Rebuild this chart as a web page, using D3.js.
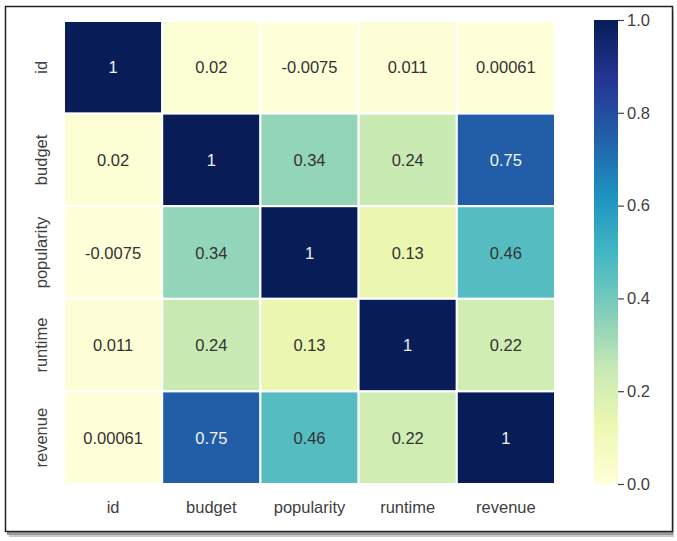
<!DOCTYPE html>
<html><head><meta charset="utf-8">
<script src="https://cdn.jsdelivr.net/npm/d3@7"></script>
<style>body{margin:0;background:#fff}svg{display:block}text{font-family:"Liberation Sans",Arial,sans-serif}</style>
</head><body>
<svg id="c" width="677" height="541"></svg>
<script>
const labels = ["id","budget","popularity","runtime","revenue"];
const matrix = [
  [1, 0.02, -0.0075, 0.011, 0.00061],
  [0.02, 1, 0.34, 0.24, 0.75],
  [-0.0075, 0.34, 1, 0.13, 0.46],
  [0.011, 0.24, 0.13, 1, 0.22],
  [0.00061, 0.75, 0.46, 0.22, 1]
];
const matrixText = [
  ["1","0.02","-0.0075","0.011","0.00061"],
  ["0.02","1","0.34","0.24","0.75"],
  ["-0.0075","0.34","1","0.13","0.46"],
  ["0.011","0.24","0.13","1","0.22"],
  ["0.00061","0.75","0.46","0.22","1"]
];
const cbarTicks = [0.0,0.2,0.4,0.6,0.8,1.0];
const ylgnbu = ["#ffffd9","#edf8b1","#c7e9b4","#7fcdbb","#41b6c4","#1d91c0","#225ea8","#253494","#081d58"];

const svg = d3.select("#c");
// frame with shadow
svg.append("rect").attr("x",9).attr("y",10).attr("width",665).attr("height",527).attr("fill","#c8c8c8");
svg.append("rect").attr("x",7).attr("y",8).attr("width",666).attr("height",527).attr("fill","#9a9a9a");
svg.append("rect").attr("x",5.5).attr("y",6.5).attr("width",667).attr("height",525).attr("fill","#fff").attr("stroke","#222").attr("stroke-width",1.5);

const color = d3.scaleLinear().domain(d3.range(9).map(i=>i/8)).range(ylgnbu).clamp(true);
const x = d3.scaleBand().domain(labels).range([64,555]);
const y = d3.scaleBand().domain(labels).range([21,484]);
const fs = 16.5;

const cells = [];
matrix.forEach((row,i)=>row.forEach((v,j)=>cells.push({r:labels[i],c:labels[j],v,t:matrixText[i][j]})));

svg.append("g").selectAll("rect").data(cells).join("rect")
  .attr("x",d=>x(d.c)).attr("y",d=>y(d.r))
  .attr("width",x.bandwidth()).attr("height",y.bandwidth())
  .attr("fill",d=>color(d.v)).attr("stroke","#fff").attr("stroke-width",2);

function lum(c){const r=d3.rgb(c);const f=v=>{v/=255;return v<=0.03928?v/12.92:Math.pow((v+0.055)/1.055,2.4)};return 0.2126*f(r.r)+0.7152*f(r.g)+0.0722*f(r.b);}
svg.append("g").selectAll("text").data(cells).join("text")
  .attr("x",d=>x(d.c)+x.bandwidth()/2).attr("y",d=>y(d.r)+y.bandwidth()/2)
  .attr("text-anchor","middle").attr("dominant-baseline","central")
  .attr("font-size",fs)
  .attr("fill",d=>lum(color(d.v))>0.408?"#333":"#f2f2f2")
  .text(d=>d.t);

// axes labels
svg.append("g").selectAll("text").data(labels).join("text")
  .attr("x",d=>x(d)+x.bandwidth()/2).attr("y",507)
  .attr("text-anchor","middle").attr("dominant-baseline","central")
  .attr("font-size",fs).attr("fill","#404040").text(d=>d);
svg.append("g").selectAll("text").data(labels).join("text")
  .attr("transform",d=>`translate(41,${y(d)+y.bandwidth()/2}) rotate(-90)`)
  .attr("text-anchor","middle").attr("dominant-baseline","central")
  .attr("font-size",fs).attr("fill","#404040").text(d=>d);

// colorbar
const defs = svg.append("defs");
const grad = defs.append("linearGradient").attr("id","g").attr("x1",0).attr("y1",1).attr("x2",0).attr("y2",0);
ylgnbu.forEach((c,i)=>grad.append("stop").attr("offset",i/8).attr("stop-color",c));
const cy = d3.scaleLinear().domain([0,1]).range([484,20]);
svg.append("rect").attr("x",594).attr("y",cy(1)).attr("width",24).attr("height",cy(0)-cy(1)).attr("fill","url(#g)");
const ax = svg.append("g").attr("transform","translate(618,0)")
  .call(d3.axisRight(cy).tickValues(cbarTicks).tickFormat(d3.format(".1f")).tickSize(6).tickPadding(3));
ax.select(".domain").remove();
ax.selectAll("line").attr("stroke","#444").attr("stroke-width",1.2);
ax.selectAll("text").attr("font-size",fs).attr("fill","#404040").attr("font-family","Liberation Sans, Arial, sans-serif");
</script>
</body></html>
